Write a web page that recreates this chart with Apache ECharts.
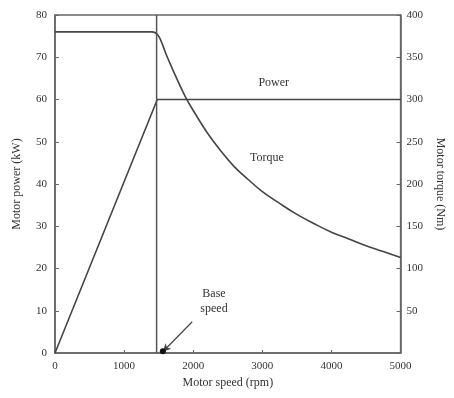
<!DOCTYPE html>
<html><head><meta charset="utf-8">
<script src="https://cdn.jsdelivr.net/npm/echarts@6/dist/echarts.min.js"></script>
<style>html,body{margin:0;padding:0;background:#fff}#c{width:454px;height:398px}</style>
</head><body><div id="c"></div>
<script>
// rpm, kW
const powerData = [[0,0],[1480,60],[5000,60]];
// rpm, Nm
const torqueData = [[0,380],[1400,380],[1450,379],[1500,375],[1560,364],[1600,355],[1700,336],[1800,318],[1900,301],[2000,287],[2200,261],[2400,239],[2600,220],[2800,205],[3000,191],[3250,177],[3500,164],[3750,153],[4000,143],[4250,135],[4500,127],[4750,120],[5000,113]];
const baseSpeed = 1470;
const baseLine = [[baseSpeed,0],[baseSpeed,80]];
const xTicks = [0,1000,2000,3000,4000,5000];
const powerTicks = [0,10,20,30,40,50,60,70,80];
const torqueTicks = [50,100,150,200,250,300,350,400];

const font = 'Liberation Serif';
const txt = '#333';
const lineC = '#444';
const chart = echarts.init(document.getElementById('c'));
chart.setOption({
  animation:false,
  grid:{left:55,right:52,top:15,bottom:45,show:true,borderColor:'#666',borderWidth:1.5},
  xAxis:{type:'value',min:0,max:5000,interval:1000,
    name:'Motor speed (rpm)',nameLocation:'middle',nameGap:24,
    nameTextStyle:{fontFamily:font,fontSize:12,color:txt},
    axisLine:{lineStyle:{color:'#666',width:1.5}},
    axisTick:{inside:true,length:3,lineStyle:{color:'#666'}},
    axisLabel:{fontFamily:font,fontSize:11,color:txt,margin:8,
      formatter:v=>xTicks.includes(v)?String(v):''},
    splitLine:{show:false}},
  yAxis:[{type:'value',min:0,max:80,interval:10,
    name:'Motor power (kW)',nameLocation:'middle',nameGap:32,
    nameTextStyle:{fontFamily:font,fontSize:12,color:txt},
    axisLine:{show:true,lineStyle:{color:'#666',width:1.5}},
    axisTick:{show:true,inside:true,length:4,lineStyle:{color:'#666'}},
    axisLabel:{fontFamily:font,fontSize:11,color:txt,margin:8,
      formatter:v=>powerTicks.includes(v)?String(v):''},
    splitLine:{show:false}},
   {type:'value',min:0,max:400,interval:50,position:'right',
    name:'Motor torque (Nm)',nameLocation:'middle',nameGap:30,nameRotate:-90,
    nameTextStyle:{fontFamily:font,fontSize:12,color:txt},
    axisLine:{show:true,lineStyle:{color:'#666',width:1.5}},
    axisTick:{show:true,inside:true,length:4,lineStyle:{color:'#666'}},
    axisLabel:{fontFamily:font,fontSize:11,color:txt,margin:6,
      formatter:v=>torqueTicks.includes(v)?String(v):''},
    splitLine:{show:false}}],
  series:[
   {type:'line',data:powerData,yAxisIndex:0,symbol:'none',
    lineStyle:{color:lineC,width:1.6},
    markPoint:{symbol:'circle',symbolSize:0,silent:true,
      label:{show:true,fontFamily:font,fontSize:12,color:txt,position:'inside'},
      data:[{coord:[3165,64],value:'Power'},{coord:[3065,46.2],value:'Torque'},
            {coord:[2300,12.3],value:'Base\nspeed',label:{lineHeight:15}}]}},
   {type:'line',data:torqueData,yAxisIndex:1,symbol:'none',smooth:0.4,
    lineStyle:{color:lineC,width:1.6}},
   {type:'line',data:baseLine,yAxisIndex:0,symbol:'none',
    lineStyle:{color:'#555',width:1.5},
    markLine:{silent:true,symbol:['none','arrow'],symbolSize:[6,8],
      lineStyle:{color:'#444',width:1.2,type:'solid'},label:{show:false},
      data:[[{coord:[1985,7.4]},{coord:[1560,0.3]}]]},
    markPoint:{symbol:'circle',symbolSize:6,itemStyle:{color:'#111'},label:{show:false},
      data:[{coord:[1560,0.4]}]}}
  ]
});
</script></body></html>
